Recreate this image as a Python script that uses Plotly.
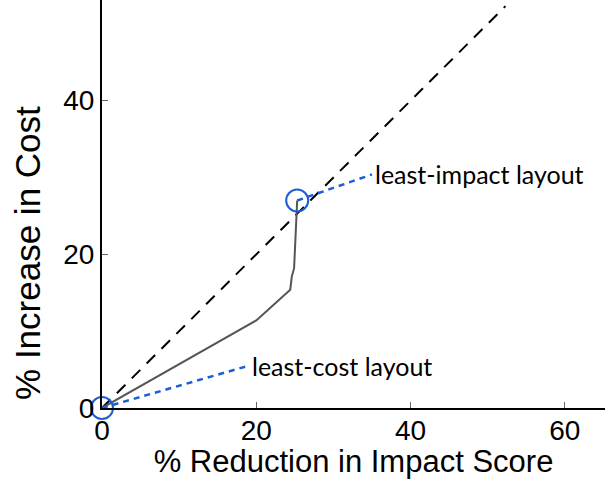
import plotly.graph_objects as go

# Trade-off curve: % reduction in impact score vs % increase in cost
impact_reduction = [0.0, 20.0, 24.4, 24.6, 24.9, 25.3]
cost_increase = [0.0, 11.4, 15.4, 17.1, 18.2, 27.0]

# Parity reference line (cost increase == impact reduction)
parity_x = [0.0, 52.3]
parity_y = [0.0, 52.3]

# Highlighted layouts and where their labels sit
layout_names = ["least-cost layout", "least-impact layout"]
layout_x = [0.0, 25.3]
layout_y = [0.0, 27.0]
label_x = [19.0, 35.0]
label_y = [5.5, 30.4]

x_ticks = [0, 20, 40, 60]
y_ticks = [0, 20, 40]

BLUE = "#1c5fd4"
TITLE_FONT = dict(family="Liberation Sans", color="black")

fig = go.Figure()

fig.add_trace(go.Scatter(
    x=parity_x, y=parity_y, mode="lines",
    line=dict(color="black", width=2, dash="12px,9px"),
    hoverinfo="skip", showlegend=False,
))

fig.add_trace(go.Scatter(
    x=impact_reduction, y=cost_increase, mode="lines",
    line=dict(color="#555555", width=2),
    showlegend=False,
))

# Dotted leaders from each highlighted layout to its label
for lx, ly, tx, ty in zip(layout_x, layout_y, label_x, label_y):
    fig.add_trace(go.Scatter(
        x=[lx, tx], y=[ly, ty], mode="lines",
        line=dict(color=BLUE, width=2.5, dash="6px,5px"),
        hoverinfo="skip", showlegend=False, cliponaxis=False,
    ))

fig.add_trace(go.Scatter(
    x=layout_x, y=layout_y, mode="markers",
    marker=dict(symbol="circle-open", size=22, color=BLUE,
                line=dict(width=2, color=BLUE)),
    cliponaxis=False, showlegend=False,
))

for name, tx, ty in zip(layout_names, label_x, label_y):
    fig.add_annotation(
        x=tx, y=ty, text=name, showarrow=False,
        xanchor="left", yanchor="middle", xshift=1,
        font=dict(family="Lato", size=25, color="black"),
    )

# Y-axis title, placed a little below the middle of the axis
fig.add_annotation(
    text="% Increase in Cost", textangle=-90,
    xref="paper", yref="paper", x=0, y=0.38,
    xanchor="center", yanchor="middle", xshift=-74,
    showarrow=False, font=dict(size=35, **TITLE_FONT),
)

axis_common = dict(
    showgrid=False, zeroline=False,
    showline=True, linecolor="black", linewidth=2,
    ticks="inside", ticklen=6, tickwidth=1, tickcolor="#666666",
    tickfont=dict(family="Liberation Sans", size=28, color="black"),
)

fig.update_xaxes(
    range=[0, 65.2], tickvals=x_ticks, ticklabelstandoff=-4,
    title_text="% Reduction in Impact Score", title_standoff=0,
    title_font=dict(size=31, **TITLE_FONT),
    **axis_common,
)
fig.update_yaxes(
    range=[0, 53.1], tickvals=y_ticks,
    **axis_common,
)

fig.update_layout(
    width=605, height=479,
    margin=dict(l=102, r=0, t=0, b=71),
    paper_bgcolor="white", plot_bgcolor="white",
    showlegend=False,
)

fig.write_html("out.html")
